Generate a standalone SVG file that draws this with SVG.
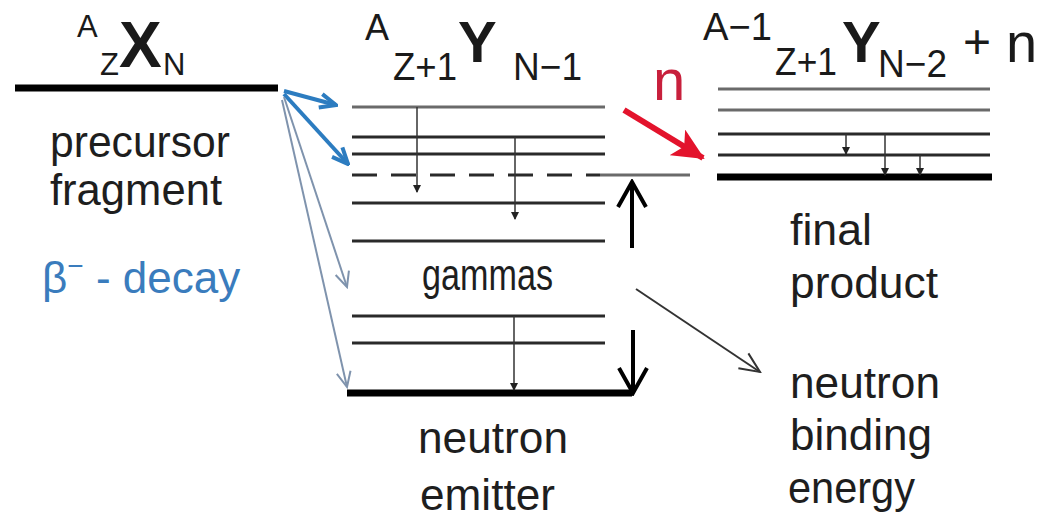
<svg xmlns="http://www.w3.org/2000/svg" width="1039" height="517" viewBox="0 0 1039 517">
<style>
.lbl{font-family:"Liberation Sans",Arial,sans-serif;font-size:44px;fill:#1e1e1e}
.hd{font-family:"Liberation Sans",Arial,sans-serif;fill:#1a1a1a}
.b{font-weight:bold}
.lv{stroke:#2a2a2a;stroke-width:3;fill:none}
.lvg{stroke:#6a6a6a;stroke-width:3;fill:none}
.thick{stroke:#000;stroke-width:7;fill:none}
.tr{stroke:#333;stroke-width:1.5;fill:none;marker-end:url(#tiny)}
</style>
<defs>
<marker id="blue" markerUnits="userSpaceOnUse" viewBox="0 0 20 20" markerWidth="20" markerHeight="20" refX="18" refY="10" orient="auto"><path d="M2,3 L18,10 L2,17" fill="none" stroke="#2c7cc0" stroke-width="4"/></marker>
<marker id="thinb" markerUnits="userSpaceOnUse" viewBox="0 0 18 18" markerWidth="18" markerHeight="18" refX="16" refY="9" orient="auto"><path d="M1,2 L16,9 L1,16" fill="none" stroke="#7f93ad" stroke-width="2"/></marker>
<marker id="blk" markerUnits="userSpaceOnUse" viewBox="0 0 30 32" markerWidth="30" markerHeight="32" refX="27" refY="16" orient="auto"><path d="M2,2 L27,16 L2,30" fill="none" stroke="#000" stroke-width="4"/></marker>
<marker id="think" markerUnits="userSpaceOnUse" viewBox="0 0 24 24" markerWidth="24" markerHeight="24" refX="22" refY="12" orient="auto"><path d="M2,3 L22,12 L2,21" fill="none" stroke="#333" stroke-width="2"/></marker>
<marker id="red" markerUnits="userSpaceOnUse" viewBox="0 0 32 30" markerWidth="32" markerHeight="30" refX="30" refY="15" orient="auto"><path d="M0,0 L32,15 L0,30 L8,15 Z" fill="#e3132c"/></marker>
<marker id="tiny" markerUnits="userSpaceOnUse" viewBox="0 0 8 8" markerWidth="8" markerHeight="8" refX="7" refY="4" orient="auto"><path d="M0,0 L8,4 L0,8 Z" fill="#222"/></marker>
</defs>
<rect width="1039" height="517" fill="#fff"/>

<g id="precursor">
<line class="thick" x1="15" y1="88" x2="278" y2="88" stroke-width="8"/>
<text class="hd" x="77" y="37" font-size="31">A</text>
<text class="hd" x="100" y="75" font-size="31">Z</text>
<text class="hd b" x="119" y="67" font-size="64">X</text>
<text class="hd" x="163" y="75" font-size="31">N</text>
<text class="lbl" x="50" y="157" textLength="180" lengthAdjust="spacingAndGlyphs">precursor</text>
<text class="lbl" x="50" y="205" textLength="172" lengthAdjust="spacingAndGlyphs">fragment</text>
<text class="lbl" x="42" y="293" font-size="46" style="fill:#3a7cbd">β<tspan font-size="28" dy="-18">−</tspan><tspan dy="18"> - decay</tspan></text>
</g>

<g id="emitter">
<text class="hd" x="365" y="40" font-size="36">A</text>
<text class="hd" x="393" y="80" font-size="38" textLength="64" lengthAdjust="spacingAndGlyphs">Z+1</text>
<text class="hd b" x="458" y="62" font-size="58">Y</text>
<text class="hd" x="513" y="80" font-size="38" textLength="69" lengthAdjust="spacingAndGlyphs">N−1</text>
<line class="lvg" x1="352" y1="107" x2="605" y2="107"/>
<line class="lv" x1="352" y1="137" x2="605" y2="137"/>
<line class="lv" x1="352" y1="154" x2="605" y2="154"/>
<line class="lv" x1="352" y1="175" x2="600" y2="175" stroke-dasharray="25,14"/>
<line class="lvg" x1="600" y1="175" x2="690" y2="175" stroke="#9a9a9a"/>
<line class="lv" x1="352" y1="203" x2="605" y2="203"/>
<line class="lv" x1="352" y1="241" x2="605" y2="241"/>
<line class="lv" x1="352" y1="316" x2="605" y2="316"/>
<line class="lv" x1="352" y1="343" x2="605" y2="343"/>
<line class="thick" x1="347" y1="393" x2="632" y2="393"/>
<line class="tr" x1="417" y1="107" x2="417" y2="192"/>
<line class="tr" x1="515" y1="137" x2="515" y2="219"/>
<line class="tr" x1="514" y1="316" x2="514" y2="390"/>
<text class="lbl" x="422" y="290" font-size="37" textLength="131" lengthAdjust="spacingAndGlyphs">gammas</text>
<text class="lbl" x="418" y="453" textLength="150" lengthAdjust="spacingAndGlyphs">neutron</text>
<text class="lbl" x="420" y="510" textLength="135" lengthAdjust="spacingAndGlyphs">emitter</text>
</g>

<g id="final">
<text class="hd" x="703" y="40" font-size="38" textLength="69" lengthAdjust="spacingAndGlyphs">A−1</text>
<text class="hd" x="775" y="75" font-size="38" textLength="62" lengthAdjust="spacingAndGlyphs">Z+1</text>
<text class="hd b" x="842" y="62" font-size="58">Y</text>
<text class="hd" x="878" y="77" font-size="38" textLength="69" lengthAdjust="spacingAndGlyphs">N−2</text>
<text class="hd" x="963" y="58" font-size="48">+</text>
<text class="hd" x="1006" y="62" font-size="56">n</text>
<line class="lvg" x1="718" y1="89" x2="990" y2="89"/>
<line class="lvg" x1="718" y1="110" x2="990" y2="110"/>
<line class="lv" x1="718" y1="134" x2="990" y2="134"/>
<line class="lv" x1="718" y1="155" x2="990" y2="155"/>
<line class="thick" x1="717" y1="177" x2="992" y2="177"/>
<line class="tr" x1="846" y1="134" x2="846" y2="154"/>
<line class="tr" x1="885" y1="134" x2="885" y2="175"/>
<line class="tr" x1="920" y1="155" x2="920" y2="175"/>
<text class="lbl" x="790" y="245" textLength="82" lengthAdjust="spacingAndGlyphs">final</text>
<text class="lbl" x="790" y="298" textLength="148" lengthAdjust="spacingAndGlyphs">product</text>
</g>

<g id="binding">
<text class="lbl" x="790" y="398" textLength="150" lengthAdjust="spacingAndGlyphs">neutron</text>
<text class="lbl" x="790" y="450" textLength="142" lengthAdjust="spacingAndGlyphs">binding</text>
<text class="lbl" x="788" y="503" textLength="127" lengthAdjust="spacingAndGlyphs">energy</text>
</g>

<g id="connectors" fill="none">
<line x1="284" y1="91" x2="336" y2="105" stroke="#2c7cc0" stroke-width="4" marker-end="url(#blue)"/>
<line x1="284" y1="94" x2="348" y2="164" stroke="#2c7cc0" stroke-width="4" marker-end="url(#blue)"/>
<line x1="284" y1="97" x2="347" y2="287" stroke="#7f93ad" stroke-width="2" marker-end="url(#thinb)"/>
<line x1="282" y1="100" x2="347" y2="387" stroke="#7f93ad" stroke-width="2" marker-end="url(#thinb)"/>
<line x1="624" y1="110" x2="703" y2="158" stroke="#e3132c" stroke-width="6" marker-end="url(#red)"/>
<text x="653" y="100" font-family="Liberation Sans, Arial, sans-serif" font-size="58" fill="#c8203c">n</text>
<line x1="632" y1="248" x2="632" y2="182" stroke="#000" stroke-width="4" marker-end="url(#blk)"/>
<line x1="633" y1="330" x2="633" y2="393" stroke="#000" stroke-width="4" marker-end="url(#blk)"/>
<line x1="636" y1="289" x2="760" y2="372" stroke="#333" stroke-width="2" marker-end="url(#think)"/>
</g>
</svg>
